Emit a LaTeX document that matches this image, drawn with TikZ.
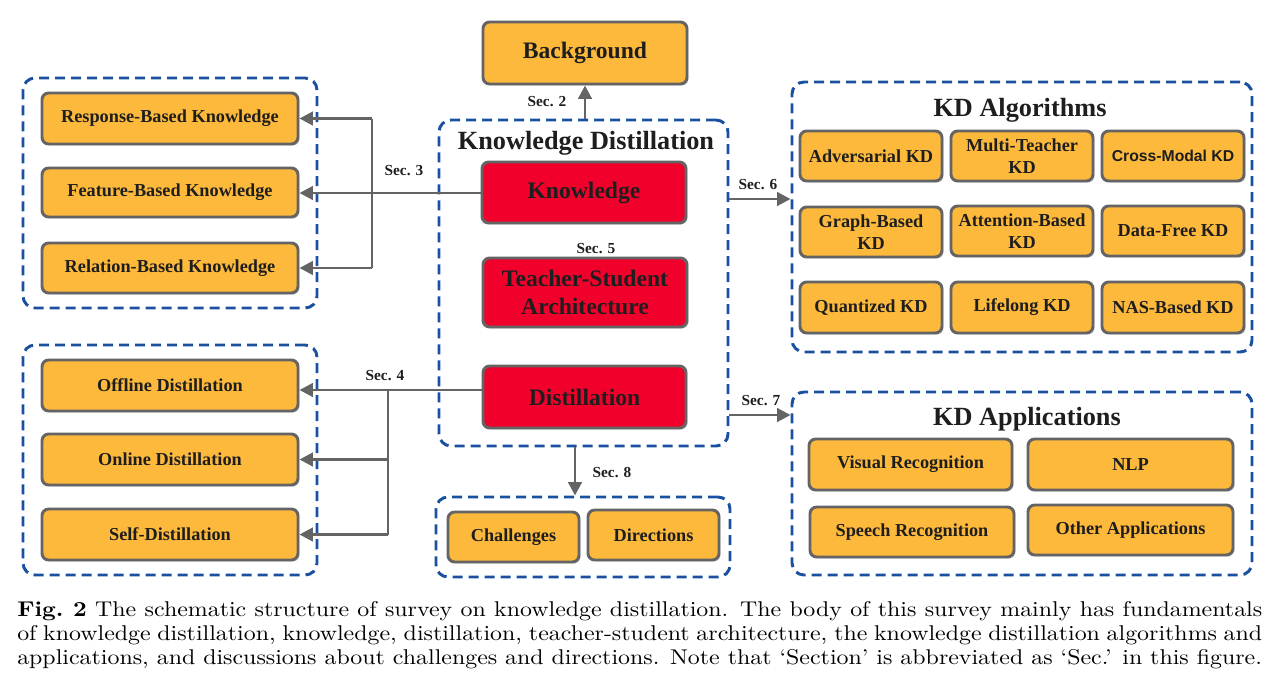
\documentclass[tikz,border=0pt]{standalone}
\usepackage{fontspec}
\newfontfamily\tnr{Liberation Serif}
\newfontfamily\ars{Liberation Sans}
\newfontfamily\capfont{lmroman10-regular.otf}[BoldFont=lmroman10-bold.otf, FakeStretch=1.12]
\usetikzlibrary{arrows.meta,shadows,calc}
\definecolor{borange}{RGB}{253,185,60}
\definecolor{bred}{RGB}{242,0,44}
\definecolor{bgray}{RGB}{100,100,100}
\definecolor{dblue}{RGB}{25,80,160}
\definecolor{txt}{RGB}{30,30,30}
\begin{document}
\begin{tikzpicture}[x=0.75pt,y=-0.75pt,
 sz/.style 2 args={minimum width=#1*0.75pt, minimum height=#2*0.75pt},
 box/.style={draw=bgray, line width=2.2pt, rounded corners=5pt, inner sep=0pt, align=center, text=txt,
   font=\tnr\bfseries\fontsize{13.7}{16.5}\selectfont,
   drop shadow={shadow xshift=1.2pt,shadow yshift=-1.2pt,fill=black,opacity=0.15}},
 obox/.style={box, fill=borange},
 rbox/.style={box, fill=bred, font=\tnr\bfseries\fontsize{17.7}{21}\selectfont},
 grp/.style={draw=dblue, line width=2.2pt, dash pattern=on 7.5pt off 4.5pt, rounded corners=9pt, inner sep=0pt},
 ttl/.style={font=\tnr\bfseries\fontsize{19.7}{22}\selectfont, text=txt, inner sep=0pt},
 sec/.style={font=\tnr\bfseries\fontsize{11.5}{13}\selectfont, text=txt, inner sep=0pt},
 conn/.style={draw=bgray, line width=2.2pt},
 arr/.style={conn, -{Triangle[length=10pt,width=10pt]}},
 capline/.style={anchor=base west, inner sep=0pt, font=\capfont\fontsize{16}{18}\selectfont},
]
\useasboundingbox (0,0) rectangle (1280,686);

% ---------- groups ----------
\node[grp, sz={294}{230}] (kgrp) at (170,193) {};
\node[grp, sz={294}{230}] (dgrp) at (170,460) {};
\node[grp, sz={289}{326}] (kdg) at (583.5,283) {};
\node[grp, sz={460}{270}] (alg) at (1022,217) {};
\node[grp, sz={460}{183}] (app) at (1022,483.5) {};
\node[grp, sz={294}{80}] (fut) at (583,537) {};

% ---------- titles ----------
\node[ttl, anchor=base] (kdt) at (586,149) {Knowledge Distillation};
\node[ttl, anchor=base] (algt) at (1020,116) {KD Algorithms};
\node[ttl, anchor=base] (appt) at (1027,425) {KD Applications};

% ---------- centre ----------
\node[obox, sz={204}{62}, font=\tnr\bfseries\fontsize{17.7}{21}\selectfont] (bg) at (585,53) {Background};
\node[rbox, sz={204}{61}] (know) at (584,192.5) {Knowledge};
\node[rbox, sz={204}{69}] (ts) at (585,292.5) {Teacher-Student\\Architecture};
\node[rbox, sz={203}{62}] (dist) at (584.5,397) {Distillation};

% ---------- left ----------
\node[obox, sz={256}{51}] (resp) at (170,118.5) {Response-Based Knowledge};
\node[obox, sz={256}{49}] (feat) at (170,192.5) {Feature-Based Knowledge};
\node[obox, sz={256}{50}] (rel) at (170,268) {Relation-Based Knowledge};
\node[obox, sz={256}{51}] (offl) at (170,385.5) {Offline Distillation};
\node[obox, sz={256}{51}] (onl) at (170,459.5) {Online Distillation};
\node[obox, sz={256}{51}] (selfd) at (170,534.5) {Self-Distillation};

% ---------- algorithms ----------
\node[obox, sz={142}{50}] (a1) at (871,156) {Adversarial KD};
\node[obox, sz={142}{50}] (a2) at (1022,156) {Multi-Teacher\\KD};
\node[obox, sz={142}{50}, font=\ars\bfseries\fontsize{11.8}{14}\selectfont] (a3) at (1173,156) {Cross-Modal KD};
\node[obox, sz={142}{50}] (a4) at (871,232) {Graph-Based\\KD};
\node[obox, sz={142}{50}] (a5) at (1022,231) {Attention-Based\\KD};
\node[obox, sz={142}{50}] (a6) at (1173,231) {Data-Free KD};
\node[obox, sz={142}{51}] (a7) at (871,307.5) {Quantized KD};
\node[obox, sz={142}{51}] (a8) at (1022,307.5) {Lifelong KD};
\node[obox, sz={142}{51}] (a9) at (1173,307.5) {NAS-Based KD};

% ---------- applications ----------
\node[obox, sz={203}{51}] (v1) at (910.5,464.5) {Visual Recognition};
\node[obox, sz={205}{51}] (v2) at (1130.5,464.5) {NLP};
\node[obox, sz={204}{50}] (v3) at (912,532) {Speech Recognition};
\node[obox, sz={205}{50}] (v4) at (1130.5,530) {Other Applications};

% ---------- future ----------
\node[obox, sz={131}{50}] (chal) at (513.5,537) {Challenges};
\node[obox, sz={131}{50}] (dirn) at (653.5,535) {Directions};

% ---------- section labels ----------
\node[sec] (s2) at (547,102) {Sec. 2};
\node[sec] (s3) at (404,171) {Sec. 3};
\node[sec] (s4) at (385,376) {Sec. 4};
\node[sec] (s5) at (596,249) {Sec. 5};
\node[sec] (s6) at (758,185) {Sec. 6};
\node[sec] (s7) at (761,401) {Sec. 7};
\node[sec] (s8) at (612,472) {Sec. 8};

% ---------- connectors ----------
\coordinate (j3) at (372,193);
\coordinate (j4) at (388,390);
\coordinate (c6) at (760,199);
\coordinate (c7) at (760,415);
\coordinate (c8) at (575,470);

\draw[arr] (bg.south |- kdg.north) -- (bg.south);

\draw[arr] (know.west |- j3) -- (feat.east |- j3);
\draw[conn] (j3 |- resp.east) -- (j3 |- rel.east);
\draw[arr] (j3 |- resp.east) -- (resp.east);
\draw[arr] (j3 |- rel.east) -- (rel.east);

\draw[arr] (dist.west |- j4) -- (offl.east |- j4);
\draw[conn] (j4) -- (j4 |- selfd.east);
\draw[arr] (j4 |- onl.east) -- (onl.east);
\draw[arr] (j4 |- selfd.east) -- (selfd.east);

\draw[arr] (kdg.east |- c6) -- (alg.west |- c6);
\draw[arr] (kdg.east |- c7) -- (app.west |- c7);
\draw[arr] (kdg.south -| c8) -- (fut.north -| c8);

% ---------- caption ----------
\node[capline] (cap1) at (17,616) {\hbox to 933.75pt{\textbf{Fig.\ 2} The schematic structure of survey on knowledge distillation. The body of this survey mainly has fundamentals}};
\node[capline] (cap2) at (17,640) {\hbox to 933.75pt{of knowledge distillation, knowledge, distillation, teacher-student architecture, the knowledge distillation algorithms and}};
\node[capline] (cap3) at (17,664) {applications, and discussions about challenges and directions. Note that ‘Section’ is abbreviated as ‘Sec.’ in this figure.};
\end{tikzpicture}
\end{document}
